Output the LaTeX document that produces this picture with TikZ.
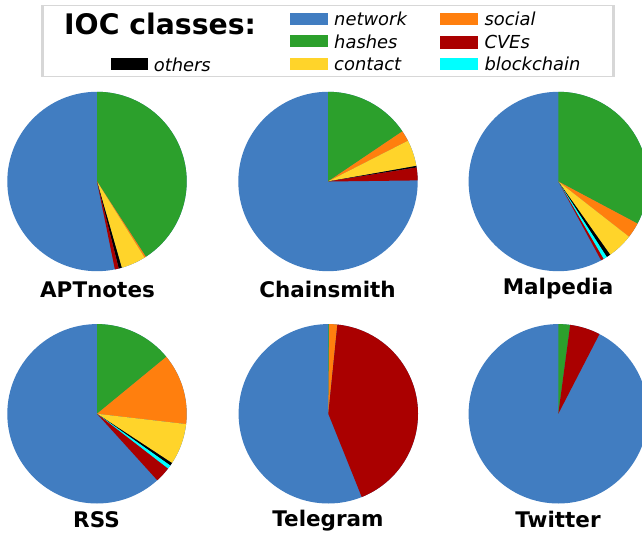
\documentclass[tikz,border=0pt]{standalone}
\usepackage{fontspec}
\setmainfont{DejaVu Sans}
\definecolor{cnet}{RGB}{65,125,193}
\definecolor{chash}{RGB}{44,160,44}
\definecolor{csoc}{RGB}{255,127,14}
\definecolor{ccont}{RGB}{255,212,42}
\definecolor{ccve}{RGB}{170,0,0}
\definecolor{cblock}{RGB}{0,255,255}
\definecolor{cframe}{RGB}{215,215,215}
\newcommand\pieslc[4]{\fill[#4] (#1) -- ++({90-#2}:89.7) arc[start angle={90-#2}, end angle={90-#3}, radius=89.7] -- cycle;}
\tikzset{
  lbl/.style={font=\bfseries\fontsize{21.5}{24}\selectfont, anchor=base, inner sep=0pt},
  legtxt/.style={font=\itshape\fontsize{17.9}{20}\selectfont, anchor=base west, inner sep=0pt},
  swatch/.style={minimum width=37.3pt, minimum height=12.7pt, inner sep=0pt, anchor=south west, draw=none}
}
\begin{document}
\begin{tikzpicture}[x=1pt,y=1pt]
\useasboundingbox (0,0) rectangle (642,533);
\clip (0,0) rectangle (642,533);
% legend box
\fill[white] (41,{533-6}) rectangle (615,{533-77});
\draw[cframe, line width=1pt] (41.5,{533-6}) rectangle (614.5,{533-77});
\fill[cframe] (41,{533-77}) rectangle (44,{533-6});
\fill[cframe] (612,{533-77}) rectangle (615,{533-6});
\node[font=\bfseries\fontsize{28.3}{31}\selectfont, anchor=base west, inner sep=0pt] (title) at (64,{533-35}) {IOC classes:};
% legend column 1
\node[swatch, fill=cnet] (s1) at (290,{533-25.7}) {};
\node[legtxt] (t1) at (334,{533-26}) {network};
\node[swatch, fill=chash] (s2) at (290,{533-47.7}) {};
\node[legtxt] (t2) at (334,{533-48.7}) {hashes};
\node[swatch, fill=ccont] (s3) at (290,{533-70.7}) {};
\node[legtxt] (t3) at (334,{533-70.9}) {contact};
% legend column 2
\node[swatch, fill=csoc] (s4) at (440,{533-25.7}) {};
\node[legtxt] (t4) at (484.3,{533-26}) {social};
\node[swatch, fill=ccve] (s5) at (440,{533-49.3}) {};
\node[legtxt] (t5) at (484.3,{533-48.7}) {CVEs};
\node[swatch, fill=cblock] (s6) at (440,{533-70.7}) {};
\node[legtxt] (t6) at (484.3,{533-70.9}) {blockchain};
% others
\node[swatch, fill=black] (s7) at (110.4,{533-70.7}) {};
\node[legtxt] (t7) at (153.6,{533-71.5}) {others};
% centers
\coordinate (c1) at (97,{533-181.5});
\coordinate (c2) at (328,{533-181.5});
\coordinate (c3) at (558.3,{533-181.5});
\coordinate (c4) at (97,{533-413.8});
\coordinate (c5) at (328.3,{533-413.8});
\coordinate (c6) at (558.3,{533-413.8});
% APTnotes
\fill[cnet] (c1) circle[radius=89.7];
\pieslc{c1}{0}{147}{chash}
\pieslc{c1}{147}{148}{csoc}
\pieslc{c1}{148}{164}{ccont}
\pieslc{c1}{164}{166}{black}
\pieslc{c1}{166}{168.5}{ccve}
% Chainsmith
\fill[cnet] (c2) circle[radius=89.7];
\pieslc{c2}{0}{56}{chash}
\pieslc{c2}{56}{63}{csoc}
\pieslc{c2}{63}{80}{ccont}
\pieslc{c2}{80}{81}{black}
\pieslc{c2}{81}{89.3}{ccve}
% Malpedia
\fill[cnet] (c3) circle[radius=89.7];
\pieslc{c3}{0}{118}{chash}
\pieslc{c3}{118}{128}{csoc}
\pieslc{c3}{128}{144.7}{ccont}
\pieslc{c3}{144.7}{147.3}{black}
\pieslc{c3}{147.3}{149.7}{cblock}
\pieslc{c3}{149.7}{151.5}{ccve}
% RSS
\fill[cnet] (c4) circle[radius=89.7];
\pieslc{c4}{0}{50.6}{chash}
\pieslc{c4}{50.6}{96.6}{csoc}
\pieslc{c4}{96.6}{123.3}{ccont}
\pieslc{c4}{123.3}{125.2}{black}
\pieslc{c4}{125.2}{127.7}{cblock}
\pieslc{c4}{127.7}{137.8}{ccve}
% Telegram
\fill[cnet] (c5) circle[radius=89.7];
\pieslc{c5}{0}{0.6}{chash}
\pieslc{c5}{0.6}{5.8}{csoc}
\pieslc{c5}{5.8}{158.1}{ccve}
% Twitter
\fill[cnet] (c6) circle[radius=89.7];
\pieslc{c6}{0}{7.6}{chash}
\pieslc{c6}{7.6}{27.3}{ccve}
% labels
\node[lbl] (l1) at (97.5,{533-297.5}) {APTnotes};
\node[lbl] (l2) at (327.5,{533-297.3}) {Chainsmith};
\node[lbl] (l3) at (558,{533-295}) {Malpedia};
\node[lbl] (l4) at (96.5,{533-527.7}) {RSS};
\node[lbl] (l5) at (328,{533-526}) {Telegram};
\node[lbl] (l6) at (558,{533-527.3}) {Twitter};
\end{tikzpicture}
\end{document}
